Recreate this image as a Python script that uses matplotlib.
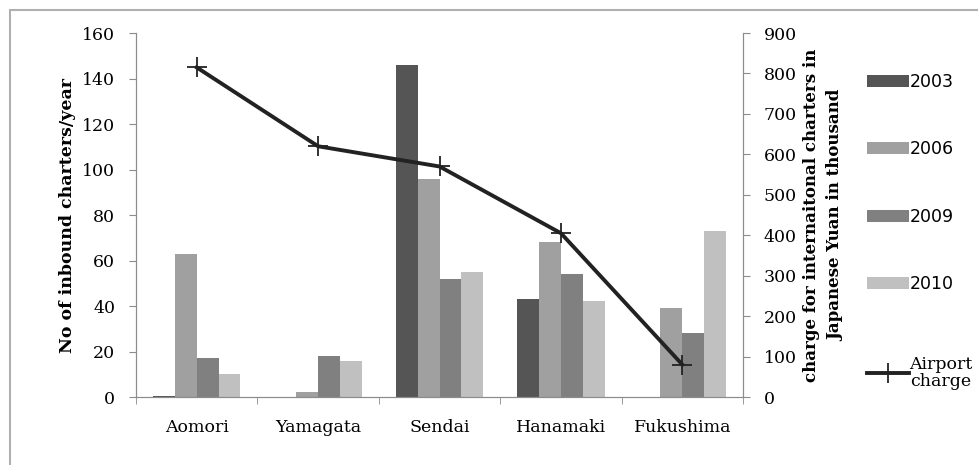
import numpy as np
import matplotlib.pyplot as plt
from matplotlib.patches import Rectangle

airports = ['Aomori', 'Yamagata', 'Sendai', 'Hanamaki', 'Fukushima']
years = ['2003', '2006', '2009', '2010']
charters_2003 = [0.5, 0, 146, 43, 0]
charters_2006 = [63, 2, 96, 68, 39]
charters_2009 = [17, 18, 52, 54, 28]
charters_2010 = [10, 16, 55, 42, 73]
airport_charge = [815, 620, 570, 405, 80]

bar_colors = ['#555555', '#a0a0a0', '#808080', '#c0c0c0']
spine_col = '#8c8c8c'

plt.rcParams['font.family'] = ['DejaVu Serif']

fig = plt.figure(figsize=(9.79, 4.65), dpi=100)
ax = fig.add_axes([0.1389, 0.1462, 0.759 - 0.1389, 0.929 - 0.1462])
ax2 = ax.twinx()

# outer frame (only top and left edges show in the reference)
fig.patches.append(Rectangle((10 / 979, -0.1), 1.2, 1 - 10 / 465 + 0.1,
                             transform=fig.transFigure, fill=False,
                             edgecolor='#b0b0b0', lw=1.5))

x = np.arange(len(airports))
w = 0.18
series = [charters_2003, charters_2006, charters_2009, charters_2010]
bars = []
for i, vals in enumerate(series):
    b = ax.bar(x + (i - 1.5) * w, vals, w, color=bar_colors[i], label=years[i])
    bars.append(b)

ax.set_xlim(-0.5, len(airports) - 0.5)
ax.set_ylim(0, 160)
ax.set_yticks(range(0, 161, 20))
ax.set_xticks(x)
ax.set_xticklabels(airports)
ax.set_xticks(np.arange(-0.5, len(airports) + 0.5, 1), minor=True)
ax.tick_params(axis='x', which='major', length=0, labelsize=12.5, pad=16)
ax.tick_params(axis='x', which='minor', length=5, color=spine_col, direction='out')
ax.tick_params(axis='y', length=5, color=spine_col, labelsize=12.5, pad=10)
ax.set_ylabel('No of inbound charters/year', fontsize=12.5, fontweight='bold', labelpad=4)

line, = ax2.plot(x, airport_charge, color='#222222', lw=2.8, marker='+',
                 markersize=14, markeredgewidth=1.3, label='Airport\ncharge')
ax2.set_ylim(0, 900)
ax2.set_yticks(range(0, 901, 100))
ax2.tick_params(axis='y', length=5, color=spine_col, labelsize=12.5, pad=10)
ax2.set_ylabel('charge for internaitonal charters in\nJapanese Yuan in thousand',
               fontsize=12, fontweight='bold', labelpad=4, linespacing=1.6)

for a in (ax, ax2):
    a.spines['top'].set_visible(False)
    for s in ('left', 'right', 'bottom'):
        a.spines[s].set_color(spine_col)
ax.set_zorder(ax2.get_zorder() - 1)
ax2.patch.set_visible(False)
ax.patch.set_visible(False)

leg = fig.legend([b[0] for b in bars], years, loc='upper left',
                 bbox_to_anchor=(0.8785, 0.858), frameon=False,
                 prop={'family': 'DejaVu Sans', 'size': 12.5},
                 handlelength=2.4, handletextpad=0.05,
                 labelspacing=2.85, borderaxespad=0)
leg2 = fig.legend([line], ['Airport\ncharge'], loc='upper left',
                  bbox_to_anchor=(0.8785, 0.25), frameon=False,
                  prop={'family': 'DejaVu Serif', 'size': 12.5},
                  handlelength=2.4, handletextpad=0.05, borderaxespad=0)
leg2.get_texts()[0].set_linespacing(1.0)
leg2.get_texts()[0].set_multialignment('center')

fig.savefig('out.png', dpi=100)
